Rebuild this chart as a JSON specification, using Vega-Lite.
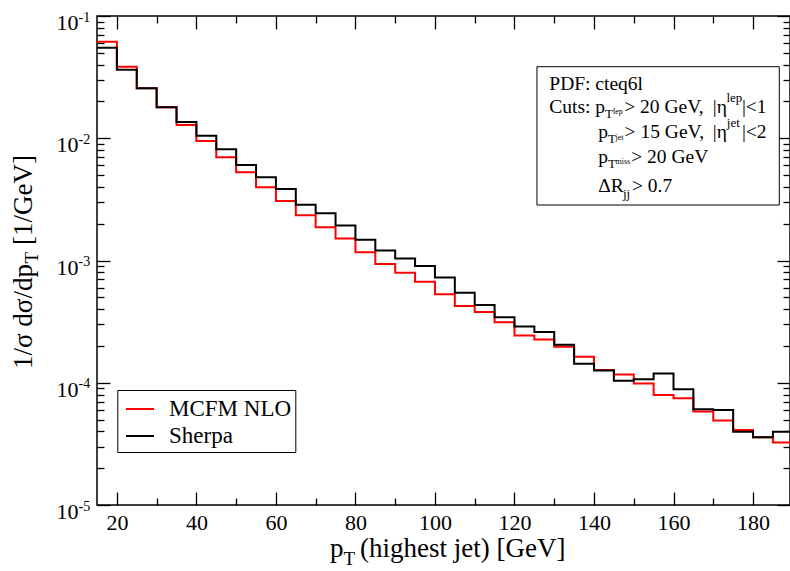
{
  "$schema": "https://vega.github.io/schema/vega-lite/v6.json",
  "width": 693,
  "height": 489,
  "autosize": "none",
  "padding": {"left": 97, "top": 16, "right": 0, "bottom": 66},
  "background": "white",
  "config": {
    "view": {"stroke": "black", "strokeWidth": 1.5},
    "font": "Liberation Serif",
    "style": {"guide-label": {"font": "Liberation Serif"}, "guide-title": {"font": "Liberation Serif"}},
    "axis": {"grid": false, "domain": false, "tickColor": "black", "labelColor": "black", "labelFont": "Liberation Serif", "tickWidth": 1.3},
    "legend": {"labelFont": "Liberation Serif"},
    "text": {"font": "Liberation Serif", "align": "left", "baseline": "alphabetic", "fill": "black"}
  },
  "datasets": {
    "hist": [
      {"pt": 15, "value": 0.0617, "series": "MCFM NLO"},
      {"pt": 20, "value": 0.0385, "series": "MCFM NLO"},
      {"pt": 25, "value": 0.0256, "series": "MCFM NLO"},
      {"pt": 30, "value": 0.0179, "series": "MCFM NLO"},
      {"pt": 35, "value": 0.01283, "series": "MCFM NLO"},
      {"pt": 40, "value": 0.0095, "series": "MCFM NLO"},
      {"pt": 45, "value": 0.00699, "series": "MCFM NLO"},
      {"pt": 50, "value": 0.00526, "series": "MCFM NLO"},
      {"pt": 55, "value": 0.00397, "series": "MCFM NLO"},
      {"pt": 60, "value": 0.00307, "series": "MCFM NLO"},
      {"pt": 65, "value": 0.00234, "series": "MCFM NLO"},
      {"pt": 70, "value": 0.00187, "series": "MCFM NLO"},
      {"pt": 75, "value": 0.00151, "series": "MCFM NLO"},
      {"pt": 80, "value": 0.00117, "series": "MCFM NLO"},
      {"pt": 85, "value": 0.000935, "series": "MCFM NLO"},
      {"pt": 90, "value": 0.000794, "series": "MCFM NLO"},
      {"pt": 95, "value": 0.000671, "series": "MCFM NLO"},
      {"pt": 100, "value": 0.000529, "series": "MCFM NLO"},
      {"pt": 105, "value": 0.000425, "series": "MCFM NLO"},
      {"pt": 110, "value": 0.000379, "series": "MCFM NLO"},
      {"pt": 115, "value": 0.000312, "series": "MCFM NLO"},
      {"pt": 120, "value": 0.000244, "series": "MCFM NLO"},
      {"pt": 125, "value": 0.000226, "series": "MCFM NLO"},
      {"pt": 130, "value": 0.000197, "series": "MCFM NLO"},
      {"pt": 135, "value": 0.000163, "series": "MCFM NLO"},
      {"pt": 140, "value": 0.000127, "series": "MCFM NLO"},
      {"pt": 145, "value": 0.000117, "series": "MCFM NLO"},
      {"pt": 150, "value": 0.0000988, "series": "MCFM NLO"},
      {"pt": 155, "value": 0.0000794, "series": "MCFM NLO"},
      {"pt": 160, "value": 0.0000746, "series": "MCFM NLO"},
      {"pt": 165, "value": 0.0000581, "series": "MCFM NLO"},
      {"pt": 170, "value": 0.000049, "series": "MCFM NLO"},
      {"pt": 175, "value": 0.000041, "series": "MCFM NLO"},
      {"pt": 180, "value": 0.0000358, "series": "MCFM NLO"},
      {"pt": 185, "value": 0.0000324, "series": "MCFM NLO"},
      {"pt": 190, "value": 0.0000324, "series": "MCFM NLO"},
      {"pt": 15, "value": 0.0551, "series": "Sherpa"},
      {"pt": 20, "value": 0.0364, "series": "Sherpa"},
      {"pt": 25, "value": 0.0256, "series": "Sherpa"},
      {"pt": 30, "value": 0.0179, "series": "Sherpa"},
      {"pt": 35, "value": 0.01358, "series": "Sherpa"},
      {"pt": 40, "value": 0.0105, "series": "Sherpa"},
      {"pt": 45, "value": 0.00813, "series": "Sherpa"},
      {"pt": 50, "value": 0.00604, "series": "Sherpa"},
      {"pt": 55, "value": 0.00479, "series": "Sherpa"},
      {"pt": 60, "value": 0.00384, "series": "Sherpa"},
      {"pt": 65, "value": 0.00286, "series": "Sherpa"},
      {"pt": 70, "value": 0.00243, "series": "Sherpa"},
      {"pt": 75, "value": 0.00193, "series": "Sherpa"},
      {"pt": 80, "value": 0.00148, "series": "Sherpa"},
      {"pt": 85, "value": 0.00121, "series": "Sherpa"},
      {"pt": 90, "value": 0.00104, "series": "Sherpa"},
      {"pt": 95, "value": 0.000902, "series": "Sherpa"},
      {"pt": 100, "value": 0.000725, "series": "Sherpa"},
      {"pt": 105, "value": 0.000545, "series": "Sherpa"},
      {"pt": 110, "value": 0.000432, "series": "Sherpa"},
      {"pt": 115, "value": 0.000343, "series": "Sherpa"},
      {"pt": 120, "value": 0.000288, "series": "Sherpa"},
      {"pt": 125, "value": 0.00026, "series": "Sherpa"},
      {"pt": 130, "value": 0.000205, "series": "Sherpa"},
      {"pt": 135, "value": 0.000143, "series": "Sherpa"},
      {"pt": 140, "value": 0.000126, "series": "Sherpa"},
      {"pt": 145, "value": 0.000104, "series": "Sherpa"},
      {"pt": 150, "value": 0.000107, "series": "Sherpa"},
      {"pt": 155, "value": 0.000119, "series": "Sherpa"},
      {"pt": 160, "value": 0.0000883, "series": "Sherpa"},
      {"pt": 165, "value": 0.0000607, "series": "Sherpa"},
      {"pt": 170, "value": 0.0000598, "series": "Sherpa"},
      {"pt": 175, "value": 0.0000397, "series": "Sherpa"},
      {"pt": 180, "value": 0.0000358, "series": "Sherpa"},
      {"pt": 185, "value": 0.0000397, "series": "Sherpa"},
      {"pt": 190, "value": 0.0000397, "series": "Sherpa"}
    ],
    "one": [{}]
  },
  "resolve": {"axis": {"x": "independent", "y": "independent"}},
  "layer": [
    {
      "data": {"name": "one"},
      "mark": {"type": "rect", "fill": "white", "stroke": "black", "strokeWidth": 1},
      "encoding": {
        "x": {"datum": 125.66, "type": "quantitative", "scale": {"domain": [15, 189.3], "nice": false, "zero": false},
          "axis": {"orient": "bottom", "values": [20, 40, 60, 80, 100, 120, 140, 160, 180], "offset": -13, "tickSize": 13, "labels": false, "title": null}},
        "x2": {"datum": 186.61},
        "y": {"datum": 0.03848, "type": "quantitative", "scale": {"type": "log", "domain": [0.00001, 0.1], "nice": false},
          "axis": {"orient": "left", "values": [0.00001, 0.0001, 0.001, 0.01, 0.1], "ticks": false, "labelPadding": 19, "labelAlign": "left", "labelBaseline": "alphabetic", "labelOffset": 5, "labelFont": "Liberation Serif", "labelFontSize": 14, "labelExpr": "'-' + round(-log(datum.value)/LN10)", "labelOverlap": false, "labelFlush": false, "labelBound": false, "title": null}},
        "y2": {"datum": 0.002844}
      }
    },
    {
      "data": {"name": "hist"},
      "mark": {"type": "line", "interpolate": "step-after", "strokeWidth": 2, "clip": true},
      "encoding": {
        "x": {"field": "pt", "type": "quantitative",
          "axis": {"orient": "bottom", "values": [20, 40, 60, 80, 100, 120, 140, 160, 180], "ticks": false, "labelPadding": 7, "labelFont": "Liberation Serif", "labelFontSize": 22, "format": "d", "labelOverlap": false, "labelFlush": false, "labelBound": false, "title": null}},
        "y": {"field": "value", "type": "quantitative",
          "axis": {"orient": "left", "values": [0.00001, 0.0001, 0.001, 0.01, 0.1], "ticks": false, "labelPadding": 19, "labelAlign": "right", "labelBaseline": "alphabetic", "labelOffset": 13.5, "labelFont": "Liberation Serif", "labelFontSize": 22, "labelExpr": "'10'", "labelOverlap": false, "labelFlush": false, "labelBound": false, "title": null}},
        "color": {"field": "series", "type": "nominal",
          "scale": {"domain": ["MCFM NLO", "Sherpa"], "range": ["#ff0000", "#000000"]},
          "legend": {"title": null, "orient": "none", "legendX": 20.3, "legendY": 374, "symbolType": "stroke", "symbolStrokeWidth": 2, "symbolSize": 784, "labelFont": "Liberation Serif", "labelFontSize": 23, "labelColor": "black", "labelOffset": 14, "strokeColor": "black", "fillColor": "white", "padding": 4, "rowPadding": -2, "symbolOffset": 3.7}}
      }
    },
    {
      "data": {"name": "one"},
      "mark": {"type": "text", "text": "PDF: cteq6l", "fontSize": 19.5},
      "encoding": {
        "x": {"datum": 128.76, "type": "quantitative",
          "axis": {"orient": "bottom", "values": [30, 50, 70, 90, 110, 130, 150, 170], "offset": -7, "tickSize": 7, "labels": false, "title": null}},
        "y": {"datum": 0.02482, "type": "quantitative",
          "axis": {"orient": "left", "values": [0.00001, 0.0001, 0.001, 0.01, 0.1], "offset": -13, "tickSize": 13, "labels": false, "title": null}}
      }
    },
    {
      "data": {"name": "one"},
      "mark": {"type": "text", "text": "Cuts: p", "fontSize": 19.5},
      "encoding": {
        "x": {"datum": 128.76, "type": "quantitative",
          "axis": {"orient": "top", "values": [20, 40, 60, 80, 100, 120, 140, 160, 180], "offset": -13, "tickSize": 13, "labels": false, "title": null}},
        "y": {"datum": 0.016, "type": "quantitative",
          "axis": {"orient": "left", "values": [0.00002, 0.00003, 0.00004, 0.00005, 0.00006, 0.00007, 0.00008, 0.00009, 0.0002, 0.0003, 0.0004, 0.0005, 0.0006, 0.0007, 0.0008, 0.0009, 0.002, 0.003, 0.004, 0.005, 0.006, 0.007, 0.008, 0.009, 0.02, 0.03, 0.04, 0.05, 0.06, 0.07, 0.08, 0.09], "offset": -7, "tickSize": 7, "labels": false, "title": null}}
      }
    },
    {
      "data": {"name": "one"},
      "mark": {"type": "text", "text": "T", "fontSize": 13},
      "encoding": {
        "x": {"datum": 142.77, "type": "quantitative",
          "axis": {"orient": "top", "values": [30, 50, 70, 90, 110, 130, 150, 170], "offset": -7, "tickSize": 7, "labels": false, "title": null}},
        "y": {"datum": 0.01456, "type": "quantitative",
          "axis": {"orient": "right", "values": [0.00001, 0.0001, 0.001, 0.01, 0.1], "offset": -13, "tickSize": 13, "labels": false, "title": null}}
      }
    },
    {
      "data": {"name": "one"},
      "mark": {"type": "text", "text": "lep", "fontSize": 8},
      "encoding": {
        "x": {"datum": 144.78, "type": "quantitative", "axis": null},
        "y": {"datum": 0.01565, "type": "quantitative",
          "axis": {"orient": "right", "values": [0.00002, 0.00003, 0.00004, 0.00005, 0.00006, 0.00007, 0.00008, 0.00009, 0.0002, 0.0003, 0.0004, 0.0005, 0.0006, 0.0007, 0.0008, 0.0009, 0.002, 0.003, 0.004, 0.005, 0.006, 0.007, 0.008, 0.009, 0.02, 0.03, 0.04, 0.05, 0.06, 0.07, 0.08, 0.09], "offset": -7, "tickSize": 7, "labels": false, "title": null}}
      }
    },
    {"data": {"name": "one"}, "mark": {"type": "text", "text": "> 20 GeV,", "fontSize": 19.5},
     "encoding": {"x": {"datum": 147.6, "type": "quantitative", "axis": null}, "y": {"datum": 0.016, "type": "quantitative", "axis": null}}},
    {"data": {"name": "one"}, "mark": {"type": "text", "text": "|η", "fontSize": 19.5},
     "encoding": {"x": {"datum": 169.9, "type": "quantitative", "axis": null}, "y": {"datum": 0.016, "type": "quantitative", "axis": null}}},
    {"data": {"name": "one"}, "mark": {"type": "text", "text": "lep", "fontSize": 13},
     "encoding": {"x": {"datum": 173.3, "type": "quantitative", "axis": null}, "y": {"datum": 0.01979, "type": "quantitative", "axis": null}}},
    {"data": {"name": "one"}, "mark": {"type": "text", "text": "|<1", "fontSize": 19.5},
     "encoding": {"x": {"datum": 177.22, "type": "quantitative", "axis": null}, "y": {"datum": 0.016, "type": "quantitative", "axis": null}}},
    {"data": {"name": "one"}, "mark": {"type": "text", "text": "p", "fontSize": 19.5},
     "encoding": {"x": {"datum": 141.08, "type": "quantitative", "axis": null}, "y": {"datum": 0.00999, "type": "quantitative", "axis": null}}},
    {"data": {"name": "one"}, "mark": {"type": "text", "text": "T", "fontSize": 13},
     "encoding": {"x": {"datum": 143.52, "type": "quantitative", "axis": null}, "y": {"datum": 0.009094, "type": "quantitative", "axis": null}}},
    {"data": {"name": "one"}, "mark": {"type": "text", "text": "jet", "fontSize": 8},
     "encoding": {"x": {"datum": 145.41, "type": "quantitative", "axis": null}, "y": {"datum": 0.009767, "type": "quantitative", "axis": null}}},
    {"data": {"name": "one"}, "mark": {"type": "text", "text": "> 15 GeV,", "fontSize": 19.5},
     "encoding": {"x": {"datum": 147.7, "type": "quantitative", "axis": null}, "y": {"datum": 0.00999, "type": "quantitative", "axis": null}}},
    {"data": {"name": "one"}, "mark": {"type": "text", "text": "|η", "fontSize": 19.5},
     "encoding": {"x": {"datum": 169.9, "type": "quantitative", "axis": null}, "y": {"datum": 0.00999, "type": "quantitative", "axis": null}}},
    {"data": {"name": "one"}, "mark": {"type": "text", "text": "jet", "fontSize": 13},
     "encoding": {"x": {"datum": 173.4, "type": "quantitative", "axis": null}, "y": {"datum": 0.01236, "type": "quantitative", "axis": null}}},
    {"data": {"name": "one"}, "mark": {"type": "text", "text": "|<2", "fontSize": 19.5},
     "encoding": {"x": {"datum": 177.22, "type": "quantitative", "axis": null}, "y": {"datum": 0.00999, "type": "quantitative", "axis": null}}},
    {"data": {"name": "one"}, "mark": {"type": "text", "text": "p", "fontSize": 19.5},
     "encoding": {"x": {"datum": 141.08, "type": "quantitative", "axis": null}, "y": {"datum": 0.006241, "type": "quantitative", "axis": null}}},
    {"data": {"name": "one"}, "mark": {"type": "text", "text": "T", "fontSize": 13},
     "encoding": {"x": {"datum": 143.52, "type": "quantitative", "axis": null}, "y": {"datum": 0.005679, "type": "quantitative", "axis": null}}},
    {"data": {"name": "one"}, "mark": {"type": "text", "text": "miss", "fontSize": 8},
     "encoding": {"x": {"datum": 145.41, "type": "quantitative", "axis": null}, "y": {"datum": 0.006101, "type": "quantitative", "axis": null}}},
    {"data": {"name": "one"}, "mark": {"type": "text", "text": "> 20 GeV", "fontSize": 19.5},
     "encoding": {"x": {"datum": 149.35, "type": "quantitative", "axis": null}, "y": {"datum": 0.006241, "type": "quantitative", "axis": null}}},
    {"data": {"name": "one"}, "mark": {"type": "text", "text": "ΔR", "fontSize": 19.5},
     "encoding": {"x": {"datum": 141.08, "type": "quantitative", "axis": null}, "y": {"datum": 0.003654, "type": "quantitative", "axis": null}}},
    {"data": {"name": "one"}, "mark": {"type": "text", "text": "jj", "fontSize": 13},
     "encoding": {"x": {"datum": 147.29, "type": "quantitative", "axis": null}, "y": {"datum": 0.003244, "type": "quantitative", "axis": null}}},
    {"data": {"name": "one"}, "mark": {"type": "text", "text": "> 0.7", "fontSize": 19.5},
     "encoding": {"x": {"datum": 149.55, "type": "quantitative", "axis": null}, "y": {"datum": 0.003654, "type": "quantitative", "axis": null}}},
    {"data": {"name": "one"}, "mark": {"type": "text", "text": "p", "fontSize": 27},
     "encoding": {"x": {"datum": 73.6, "type": "quantitative", "axis": null}, "y": {"datum": 0.000003754, "type": "quantitative", "axis": null}}},
    {"data": {"name": "one"}, "mark": {"type": "text", "text": "T", "fontSize": 19},
     "encoding": {"x": {"datum": 77.0, "type": "quantitative", "axis": null}, "y": {"datum": 0.00000323, "type": "quantitative", "axis": null}}},
    {"data": {"name": "one"}, "mark": {"type": "text", "text": "(highest jet) [GeV]", "fontSize": 27},
     "encoding": {"x": {"datum": 81.15, "type": "quantitative", "axis": null}, "y": {"datum": 0.000003754, "type": "quantitative", "axis": null}}},
    {"data": {"name": "one"}, "mark": {"type": "text", "text": "1/σ dσ/dp", "fontSize": 27, "angle": 270},
     "encoding": {"x": {"datum": -1.47, "type": "quantitative", "axis": null}, "y": {"datum": 0.0001296, "type": "quantitative", "axis": null}}},
    {"data": {"name": "one"}, "mark": {"type": "text", "text": "T", "fontSize": 19, "angle": 270},
     "encoding": {"x": {"datum": 0.035, "type": "quantitative", "axis": null}, "y": {"datum": 0.000945, "type": "quantitative", "axis": null}}},
    {"data": {"name": "one"}, "mark": {"type": "text", "text": "[1/GeV]", "fontSize": 27, "angle": 270},
     "encoding": {"x": {"datum": -1.47, "type": "quantitative", "axis": null}, "y": {"datum": 0.001339, "type": "quantitative", "axis": null}}}
  ]
}
